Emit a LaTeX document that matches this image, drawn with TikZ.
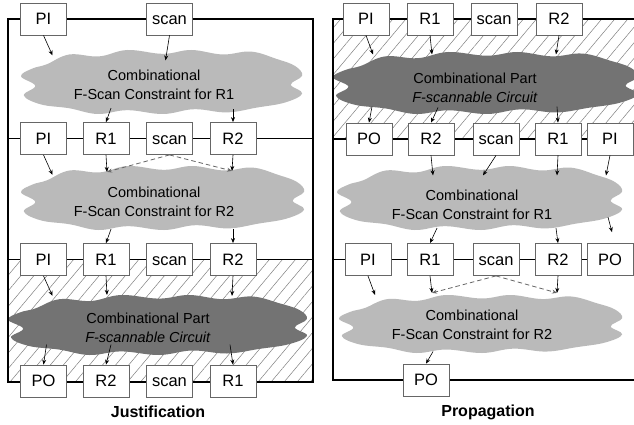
\documentclass[tikz,border=0pt]{standalone}
\usepackage{fontspec}
\setmainfont{Liberation Sans}
\usetikzlibrary{arrows.meta,patterns.meta,calc}

% a flat, gently bumped cloud outline in unit coordinates
\newcommand{\blobpts}{(-0.82,-0.55) (-0.66,-0.86) (-0.45,-0.80) (-0.25,-1.0) (0,-0.88)
  (0.2,-1.0) (0.42,-0.86) (0.62,-0.95) (0.80,-0.72) (0.93,-0.5) (0.98,-0.2)
  (0.90,0.08) (0.98,0.36) (0.86,0.64) (0.66,0.80) (0.45,0.95) (0.22,0.85)
  (0,1.0) (-0.25,0.88) (-0.46,1.0) (-0.66,0.82) (-0.86,0.70) (-0.98,0.42)
  (-0.90,0.12) (-1.0,-0.18) (-0.92,-0.42)}
% \cloudblob{style}{centre}{half width}{half height}
\newcommand{\cloudblob}[4]{%
  \begin{scope}[shift={#2},xscale=#3,yscale=#4]
    \fill[#1] plot[smooth cycle,tension=0.65] coordinates {\blobpts};
  \end{scope}}

\begin{document}
\begin{tikzpicture}[x=1pt,y=-1pt,
  frame/.style={line width=1.8pt,black},
  reg/.style={draw=black!60,line width=0.8pt,fill=white,minimum width=46pt,
    minimum height=32pt,inner sep=0pt,text height=12pt,text depth=1pt,
    font=\fontsize{16.5}{18}\selectfont},
  lite/.style={fill=black!27},
  dark/.style={fill=black!55},
  ctext/.style={align=center,font=\fontsize{14.5}{19}\selectfont},
  arr/.style={-{Stealth[length=5pt,width=4pt]},line width=0.6pt},
  darr/.style={arr,line width=0.8pt,dash pattern=on 4.5pt off 3pt,black!60},
  hatch/.style={pattern={Lines[angle=50,distance=10pt,line width=0.5pt]},pattern color=black!50},
  title/.style={font=\fontsize{16}{18}\selectfont\bfseries}]

\useasboundingbox (0,0) rectangle (634,425);
\clip (0,0) rectangle (634,425);
\fill[white] (0,0) rectangle (634,425);

% hatched (sequential) regions
\fill[hatch] (8,259) rectangle (313,382);
\fill[hatch] (333,19) rectangle (640,139);

% clouds: left column
\cloudblob{lite}{(163,82)}{142}{32}
\cloudblob{lite}{(164,198)}{143}{32}
\cloudblob{dark}{(159,325)}{151}{30}
% clouds: right column
\cloudblob{dark}{(487,83)}{154}{31}
\cloudblob{lite}{(481,198)}{144}{32}
\cloudblob{lite}{(482,324)}{143}{29}

\node[ctext] (tl1) at (154,85) {Combinational\\F-Scan Constraint for R1};
\node[ctext] (tl2) at (154,202) {Combinational\\F-Scan Constraint for R2};
\node[ctext] (tl3) at (148,328) {Combinational Part\\\textit{F-scannable Circuit}};
\node[ctext] (tr1) at (475,88) {Combinational Part\\\textit{F-scannable Circuit}};
\node[ctext] (tr2) at (472,205) {Combinational\\F-Scan Constraint for R1};
\node[ctext] (tr3) at (472,325) {Combinational\\F-Scan Constraint for R2};

% frames
\draw[frame] (8,19) rectangle (313,382);
\draw[frame] (8,138.5) -- (313,138.5);
\draw[frame] (8,259.5) -- (313,259.5);
\draw[frame] (640,19) -- (333,19) -- (333,380) -- (640,380);
\draw[frame] (333,139) -- (640,139);
\draw[frame] (333,259.5) -- (640,259.5);

% left column registers
\node[reg] (lpi1) at (43.5,19) {PI};
\node[reg] (lsc1) at (169.5,19) {scan};

\node[reg] (lpi2) at (43.5,138.5) {PI};
\node[reg] (lr12) at (106,138.5) {R1};
\node[reg] (lsc2) at (169.5,138.5) {scan};
\node[reg] (lr22) at (233,138.5) {R2};

\node[reg] (lpi3) at (43.5,259.5) {PI};
\node[reg] (lr13) at (106,259.5) {R1};
\node[reg] (lsc3) at (169.5,259.5) {scan};
\node[reg] (lr23) at (233,259.5) {R2};

\node[reg] (lpo4) at (43.5,381) {PO};
\node[reg] (lr24) at (106,381) {R2};
\node[reg] (lsc4) at (169.5,381) {scan};
\node[reg] (lr14) at (233,381) {R1};

% right column registers
\node[reg] (rpi1) at (366,19) {PI};
\node[reg] (rr11) at (430,19) {R1};
\node[reg] (rsc1) at (494,19) {scan};
\node[reg] (rr21) at (559,19) {R2};

\node[reg] (rpo2) at (369,139) {PO};
\node[reg] (rr22) at (431,139) {R2};
\node[reg] (rsc2) at (496,139) {scan};
\node[reg] (rr12) at (558,139) {R1};
\node[reg] (rpi2) at (610,139) {PI};

\node[reg] (rpi3) at (368,259.5) {PI};
\node[reg] (rr13) at (430,259.5) {R1};
\node[reg] (rsc3) at (496,259.5) {scan};
\node[reg] (rr23) at (558,259.5) {R2};
\node[reg] (rpo3) at (610,259.5) {PO};

\node[reg] (rpob) at (426,380) {PO};

% captions
\node[title] (capL) at (158,412) {Justification};
\node[title] (capR) at (488,412) {Propagation};

% left column arrows
\draw[arr] (lpi1.south) -- ++(9,20);
\draw[arr] (lsc1.south) -- ++(-4,25);
\draw[arr] ($(lr12.north)+(5,-14)$) -- (lr12.north);
\draw[arr] ($(lr22.north)+(0,-13)$) -- (lr22.north);

\coordinate (lend1) at ($(lr12.south)+(1,17)$);
\coordinate (lend2) at ($(lr22.south)+(-1,16)$);
\draw[arr] (lpi2.south) -- ++(9,20);
\draw[arr] (lr12.south) -- (lend1);
\draw[arr] (lr22.south) -- (lend2);
\draw[darr] (lsc2.south) -- (lend1);
\draw[darr] (lsc2.south) -- (lend2);
\draw[arr] ($(lr13.north)+(5,-14)$) -- (lr13.north);
\draw[arr] ($(lr23.north)+(0,-14)$) -- (lr23.north);

\draw[arr] (lpi3.south) -- ++(9,20);
\draw[arr] (lr13.south) -- ++(1,19);
\draw[arr] (lr23.south) -- ++(-1,20);
\draw[arr] ($(lpo4.north)+(3,-20)$) -- (lpo4.north);
\draw[arr] ($(lr24.north)+(5,-20)$) -- (lr24.north);
\draw[arr] ($(lr14.north)+(-3,-20)$) -- (lr14.north);

% right column arrows
\draw[arr] (rpi1.south) -- ++(7,19);
\draw[arr] (rr11.south) -- ++(2,19);
\draw[arr] (rr21.south) -- ++(-3,19);
\draw[arr] ($(rpo2.north)+(3,-16)$) -- (rpo2.north);
\draw[arr] ($(rr22.north)+(7,-15)$) -- (rr22.north);
\draw[arr] ($(rr12.north)+(-1,-16)$) -- (rr12.north);

\draw[arr] (rr22.south) -- ++(2,20);
\draw[arr] (rsc2.south) -- ++(-13,20);
\draw[arr] (rr12.south) -- ++(-1,20);
\draw[arr] (rpi2.south) -- ++(-4,20);
\draw[arr] ($(rr13.north)+(7,-15)$) -- (rr13.north);
\draw[arr] ($(rr23.north)+(-2,-15)$) -- (rr23.north);
\draw[arr] ($(rpo3.north)+(-2,-26)$) -- ($(rpo3.north)+(2,-11)$);

\coordinate (rend1) at ($(rr13.south)+(2,17)$);
\coordinate (rend2) at ($(rr23.south)+(-1,17)$);
\draw[arr] (rpi3.south) -- ++(7,19);
\draw[arr] (rr13.south) -- (rend1);
\draw[arr] (rr23.south) -- (rend2);
\draw[darr] (rsc3.south) -- (rend1);
\draw[darr] (rsc3.south) -- (rend2);
\draw[arr] ($(rpob.north)+(7,-12)$) -- (rpob.north);

\end{tikzpicture}
\end{document}
